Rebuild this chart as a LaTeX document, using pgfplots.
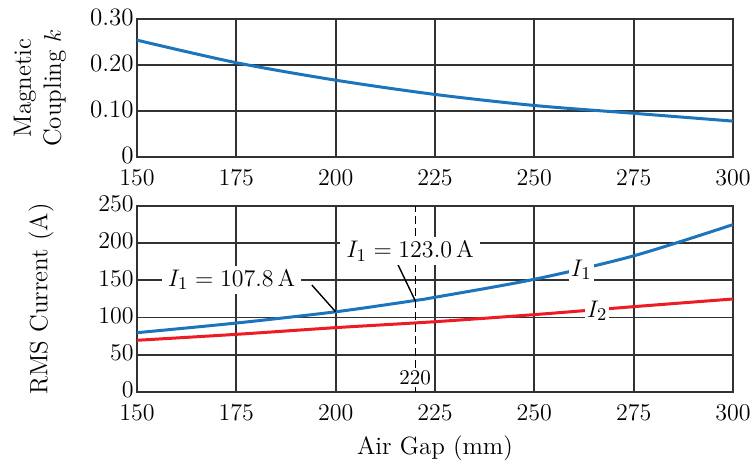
\documentclass[border=0pt]{standalone}
\usepackage{pgfplots}
\pgfplotsset{compat=1.18}
\definecolor{kblue}{RGB}{28,117,188}
\definecolor{ired}{RGB}{237,28,36}
\definecolor{gridgray}{RGB}{50,50,50}

\begin{document}
\begin{tikzpicture}
\useasboundingbox (-68.5pt,-154.5pt) rectangle (307.5pt,78.5pt);
\pgfplotsset{
  panel/.style={
    scale only axis, width=298pt,
    xmin=150, xmax=300, xtick={150,175,...,300},
    grid=major,
    major grid style={gridgray, line width=0.9pt},
    axis line style={gridgray, line width=0.9pt},
    major tick length=0pt,
    tick label style={font=\fontsize{12.5}{15}\selectfont},
    label style={font=\fontsize{12.5}{15}\selectfont},
    xticklabel style={anchor=north, inner sep=0pt, yshift=-6.5pt},
    yticklabel style={anchor=east, inner xsep=1.5pt, inner ysep=0pt, yshift=1pt},
  }
}

% Coupling coefficient versus air gap
\begin{axis}[panel, height=69pt,
    ymin=0, ymax=0.3, ytick={0,0.1,0.2,0.3},
    yticklabels={0,0.10,0.20,0.30},
    ylabel={Magnetic\\Coupling $k$},
    ylabel style={align=center, at={(axis description cs:-0.163,0.5)}, anchor=center},
  ]
  \addplot[kblue, line width=1.5pt, smooth] coordinates {
    (150,0.254) (175,0.205) (200,0.167) (225,0.136)
    (250,0.112) (275,0.095) (300,0.078)
  };
\end{axis}

% RMS currents of both coils
\begin{axis}[panel, height=93pt, at={(0,-24.5pt)}, anchor=north west,
    ymin=0, ymax=250, ytick={0,50,...,250},
    ylabel={RMS Current (A)},
    ylabel style={at={(axis description cs:-0.161,0.5)}, anchor=center},
    xlabel={Air Gap (mm)},
    xlabel style={at={(axis description cs:0.5,-0.30)}, anchor=center},
  ]
  \addplot[kblue, line width=1.5pt, smooth] coordinates {
    (150,79.7) (175,92.7) (200,107.8) (220,123.0) (225,127.3)
    (250,151.5) (275,183) (300,225)
  };
  \addplot[ired, line width=1.5pt, smooth] coordinates {
    (150,69.5) (175,77.5) (200,86.5) (225,94.5)
    (250,104) (275,114.7) (300,125)
  };
  \draw[black, line width=0.6pt, dash pattern=on 4pt off 2pt]
    (axis cs:220,0) -- (axis cs:220,250);
  \node[fill=white, inner sep=1pt, font=\fontsize{10.5}{12}\selectfont]
    at (axis cs:220,19) {220};
  \draw[black, line width=0.7pt] (axis cs:194.0,143.8) -- (axis cs:200,107.8);
  \draw[black, line width=0.7pt] (axis cs:215.6,172) -- (axis cs:220,123.0);
  \node[fill=white, inner xsep=3pt, inner ysep=2pt, font=\fontsize{12.5}{15}\selectfont]
    at (axis cs:173.8,151) {$I_1 = 107.8\,\mathrm{A}$};
  \node[fill=white, inner xsep=3pt, inner ysep=2pt, font=\fontsize{12.5}{15}\selectfont]
    at (axis cs:218.7,189) {$I_1 = 123.0\,\mathrm{A}$};
  \node[fill=white, inner sep=1pt, font=\fontsize{12.5}{15}\selectfont]
    at (axis cs:261.8,164) {$I_1$};
  \node[fill=white, inner sep=1pt, font=\fontsize{12.5}{15}\selectfont]
    at (axis cs:265.8,109) {$I_2$};
\end{axis}
\end{tikzpicture}
\end{document}
